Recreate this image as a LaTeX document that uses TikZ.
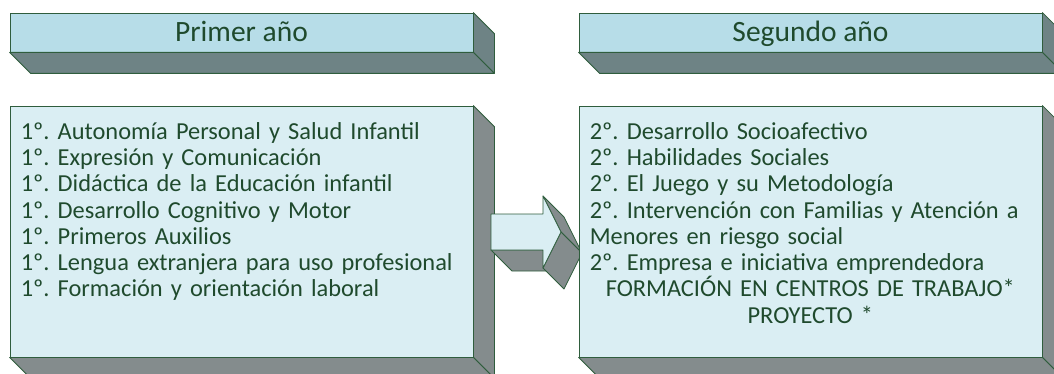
\documentclass[tikz,border=0pt]{standalone}
\usepackage{fontspec}
\setmainfont{Carlito}
\frenchspacing
\definecolor{hdrfront}{HTML}{B7DDE8}
\definecolor{hdrside}{HTML}{6E8385}
\definecolor{boxfront}{HTML}{DAEEF3}
\definecolor{boxside}{HTML}{848C8D}
\definecolor{linec}{HTML}{2F5D3D}
\definecolor{textc}{HTML}{1F4A2D}
\tikzset{
  edge/.style={draw=linec, line width=0.8pt, line join=round},
  hfront/.style={edge, fill=hdrfront, rectangle, inner sep=0pt, minimum width=463pt, minimum height=39pt,
    text=textc, font=\fontsize{29.5}{31}\selectfont, text height=19pt, text depth=0pt},
  hside/.style={edge, fill=hdrside},
  bfront/.style={edge, fill=boxfront, rectangle, inner sep=0pt, minimum width=463pt, minimum height=251pt},
  bside/.style={edge, fill=boxside},
  btext/.style={anchor=north west, inner sep=0pt, text=textc, text width=441pt, align=left,
    font=\fontsize{24.4}{26.3}\selectfont},
}
\newcommand\extrudebox[2]{%
  \path[#2] (#1.north east) -- ([shift={(21,21)}]#1.north east) -- ([shift={(21,21)}]#1.south east) -- (#1.south east) -- cycle;
  \path[#2] (#1.south west) -- (#1.south east) -- ([shift={(21,21)}]#1.south east) -- ([shift={(21,21)}]#1.south west) -- cycle;}
\begin{document}
\begin{tikzpicture}[x=1pt,y=-1pt]
\useasboundingbox (0,0) rectangle (1054,374);
\clip (0,0) rectangle (1054,374);
% headers
\node[hfront] (h1) at (241.5,32.5) {Primer año};
\extrudebox{h1}{hside}
\node[hfront] (h2) at (810.5,32.5) {Segundo año};
\extrudebox{h2}{hside}
% first box
\node[bfront] (b1) at (241.5,231.5) {};
\extrudebox{b1}{bside}
\node[btext] (t1) at ([shift={(11,14.9)}]b1.north west) {\strut 1º. Autonomía Personal y Salud Infantil\\
1º. Expresión y Comunicación\\
1º. Didáctica de la Educación infantil\\
1º. Desarrollo Cognitivo y Motor\\
1º. Primeros Auxilios\\
1º. Lengua extranjera para uso profesional\\
1º. Formación y orientación laboral};
% arrow
\coordinate (a1) at (491,214);
\coordinate (a2) at (543,214);
\coordinate (a3) at (543,196);
\coordinate (a4) at (561,232);
\coordinate (a5) at (543,268);
\coordinate (a6) at (543,250);
\coordinate (a7) at (491,250);
\path[bside] (a7) -- (a6) -- ([shift={(21,21)}]a6) -- ([shift={(21,21)}]a7) -- cycle;
\path[bside] (a3) -- ([shift={(21,21)}]a3) -- ([shift={(21,21)}]a4) -- (a4) -- cycle;
\path[bside] (a4) -- ([shift={(21,21)}]a4) -- ([shift={(21,21)}]a5) -- (a5) -- cycle;
\path[edge, fill=boxfront] (a1) -- (a2) -- (a3) -- (a4) -- (a5) -- (a6) -- (a7) -- cycle;
% second box
\node[bfront] (b2) at (810.5,231.5) {};
\extrudebox{b2}{bside}
\node[btext] (t2) at ([shift={(11,14.9)}]b2.north west) {\strut 2º. Desarrollo Socioafectivo\\
2º. Habilidades Sociales\\
2º. El Juego y su Metodología\\
2º. Intervención con Familias y Atención a\\
Menores en riesgo social\\
2º. Empresa e iniciativa emprendedora\\
\makebox[441pt][c]{FORMACIÓN EN CENTROS DE TRABAJO*}\\
\makebox[441pt][c]{PROYECTO *}};
\end{tikzpicture}
\end{document}
